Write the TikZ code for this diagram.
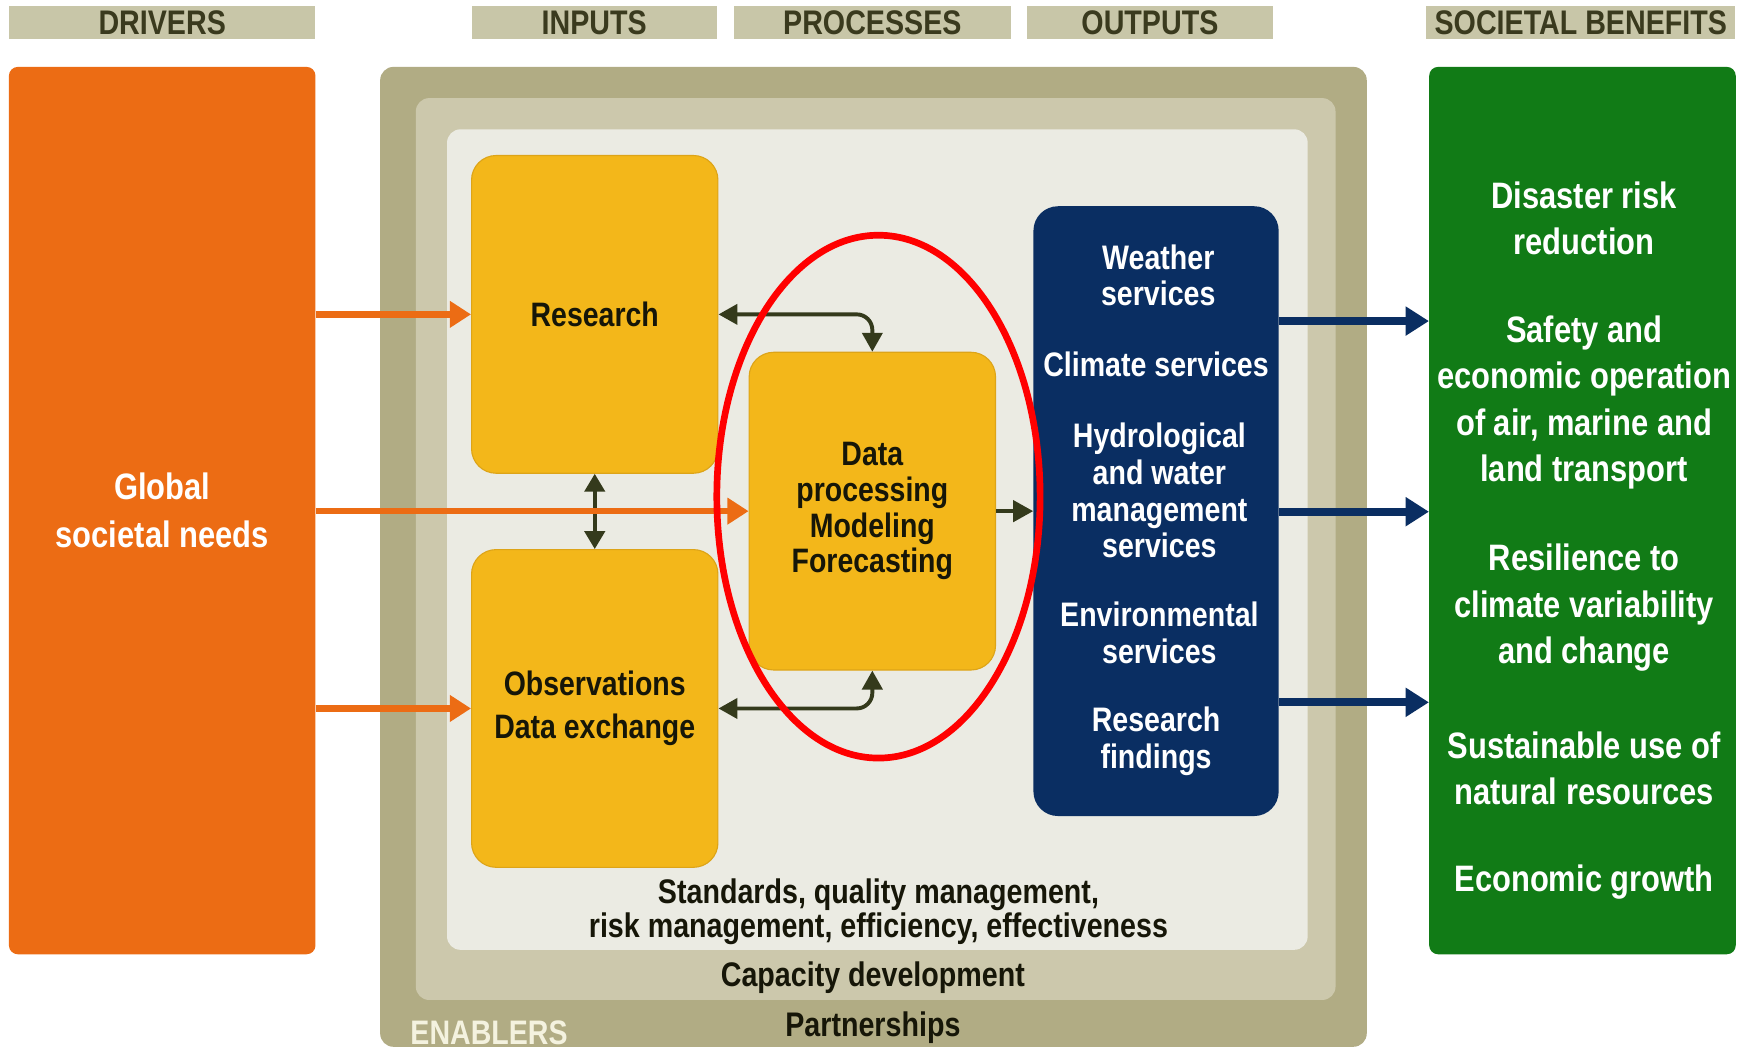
\documentclass[tikz,border=0pt]{standalone}
\usepackage{fontspec}
\newfontfamily\cf{Liberation Sans}[FakeStretch=0.84]
\usetikzlibrary{arrows.meta,shapes.geometric}
\definecolor{orangec}{HTML}{EC6C14}
\definecolor{greenc}{HTML}{117B16}
\definecolor{navyc}{HTML}{0A2E62}
\definecolor{yellowc}{HTML}{F3B71A}
\definecolor{yelloweg}{HTML}{DDA418}
\definecolor{hdrc}{HTML}{C8C6A8}
\definecolor{hdrtxt}{HTML}{3A3A1E}
\definecolor{outerc}{HTML}{B1AC84}
\definecolor{midc}{HTML}{CCC8AC}
\definecolor{innerc}{HTML}{EBEBE3}
\definecolor{olivec}{HTML}{343A1C}
\definecolor{enabc}{HTML}{F4F2DF}
\definecolor{inkc}{HTML}{161608}
\begin{document}
\begin{tikzpicture}[x=1pt,y=-1pt,
  hdr/.style={fill=hdrc, text=hdrtxt, inner sep=0pt, minimum height=30pt,
    font=\cf\bfseries\fontsize{30.6}{32}\selectfont},
  bigbox/.style={inner sep=0pt, align=center},
  ybox/.style={fill=yellowc, draw=yelloweg, line width=1pt, rounded corners=22pt,
    inner sep=0pt, minimum width=221pt, minimum height=285pt, align=center, text=inkc,
    font=\cf\bfseries\fontsize{30.4}{39}\selectfont},
  bluetxt/.style={text=white, align=center, inner sep=0pt,
    font=\cf\bfseries\fontsize{30.5}{33}\selectfont},
  greentxt/.style={text=white, align=center, inner sep=0pt,
    font=\cf\bfseries\fontsize{33}{41.5}\selectfont},
  bottxt/.style={text=inkc, align=center, inner sep=0pt,
    font=\cf\bfseries\fontsize{30.6}{31}\selectfont},
  oarr/.style={draw=orangec, line width=6pt, -{Triangle[length=19pt,width=23pt]}},
  narr/.style={draw=navyc, line width=7pt, -{Triangle[length=21pt,width=25pt]}},
  darr/.style={draw=olivec, line width=3.5pt}
]
\useasboundingbox (0,0) rectangle (1568,942);
\fill[white] (0,0) rectangle (1568,942);

% headers
\node[hdr, minimum width=275pt] (hdrv) at (145.5,20) {DRIVERS};
\node[hdr, minimum width=220pt] (hinp) at (533,20) {INPUTS};
\node[hdr, minimum width=249pt] (hproc) at (782.5,20) {PROCESSES};
\node[hdr, minimum width=221pt] (hout) at (1031.5,20) {OUTPUTS};
\node[hdr, minimum width=277pt] (hsoc) at (1418,20) {SOCIETAL BENEFITS};

% enablers frames
\node[bigbox, fill=outerc, rounded corners=12pt, minimum width=885pt, minimum height=879pt] (outer) at (783.5,499.5) {};
\node[bigbox, fill=midc, rounded corners=12pt, minimum width=825pt, minimum height=809pt] (middle) at (785.5,492.5) {};
\node[bigbox, fill=innerc, rounded corners=12pt, minimum width=772pt, minimum height=736pt] (inner) at (787,484) {};

% drivers and benefits
\node[bigbox, fill=orangec, rounded corners=8pt, minimum width=275pt, minimum height=796pt,
  text=white, font=\cf\bfseries\fontsize{33}{43}\selectfont] (global) at (145.5,458) {Global\\societal needs};
\node[bigbox, fill=greenc, rounded corners=8pt, minimum width=275pt, minimum height=796pt] (green) at (1419.5,458) {};

% yellow boxes
\node[ybox] (research) at (533.5,282) {Research};
\node[ybox] (obs) at (533.5,635.5) {Observations\\Data exchange};
\node[ybox, font=\cf\bfseries\fontsize{30.4}{32}\selectfont] (data) at (782.5,458.5) {Data\\processing\\Modeling\\Forecasting};

% outputs box
\node[bigbox, fill=navyc, rounded corners=22pt, minimum width=220pt, minimum height=547pt] (blue) at (1037,458.5) {};
\node[bluetxt] (tw) at (1039,247) {Weather\\services};
\node[bluetxt] (tc) at (1037,327) {Climate services};
\node[bluetxt] (th) at (1040,440) {Hydrological\\and water\\management\\services};
\node[bluetxt] (te) at (1040,568) {Environmental\\services};
\node[bluetxt] (tr) at (1037,665) {Research\\findings};

% benefits text
\node[greentxt] (b1) at (1421,196) {Disaster risk\\reduction};
\node[greentxt] (b2) at (1421,361) {Safety and\\economic operation\\of air, marine and\\land transport};
\node[greentxt] (b3) at (1421,545) {Resilience to\\climate variability\\and change};
\node[greentxt] (b4) at (1421,689) {Sustainable use of\\natural resources};
\node[greentxt] (b5) at (1421,791) {Economic growth};

% enabler texts
\node[bottxt] (std) at (788,818) {Standards, quality management,\\risk management, efficiency, effectiveness};
\node[bottxt] (cap) at (783,877) {Capacity development};
\node[bottxt] (part) at (783,922) {Partnerships};
\node[anchor=west, inner sep=0pt, text=enabc, font=\cf\bfseries\fontsize{30.5}{32}\selectfont] (enab) at (368,926) {ENABLERS};

% olive connectors
\draw[darr, rounded corners=14pt, {Triangle[length=17pt,width=18pt]}-{Triangle[length=17pt,width=18pt]}] (research.east) -| (data.north);
\draw[darr, rounded corners=14pt, {Triangle[length=17pt,width=18pt]}-{Triangle[length=17pt,width=18pt]}] (obs.east) -| (data.south);
\draw[darr, {Triangle[length=16pt,width=18pt]}-{Triangle[length=16pt,width=18pt]}] (research.south) -- (obs.north);
\draw[darr, -{Triangle[length=18pt,width=19pt]}] (data.east) -- (blue.west);

% orange arrows
\draw[oarr] (global.east |- research.west) -- (research.west);
\draw[oarr] (global.east |- data.west) -- (data.west);
\draw[oarr] (global.east |- obs.west) -- (obs.west);

% navy arrows
\coordinate (n1) at (0,288);
\coordinate (n2) at (0,459);
\coordinate (n3) at (0,630);
\draw[narr] (blue.east |- n1) -- (green.west |- n1);
\draw[narr] (blue.east |- n2) -- (green.west |- n2);
\draw[narr] (blue.east |- n3) -- (green.west |- n3);

% highlight ellipse
\node[draw=red, ellipse, line width=6pt, minimum width=290pt, minimum height=469pt, inner sep=0pt] (ring) at (788,445.5) {};
\end{tikzpicture}
\end{document}
